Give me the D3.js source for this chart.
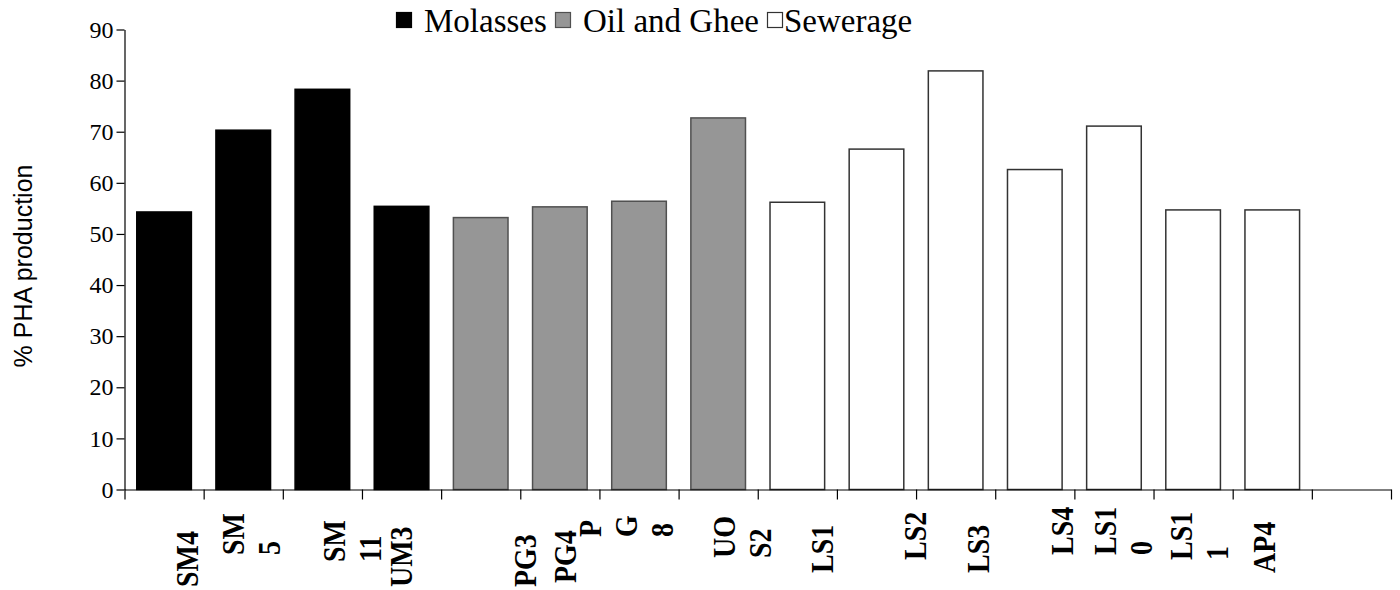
<!DOCTYPE html>
<html>
<head>
<meta charset="utf-8">
<script src="https://cdn.jsdelivr.net/npm/d3@7"></script>
<style>
    body { margin: 0; background: #fff; }
</style>
</head>
<body>
<div id="chart"></div>
<script>
// data
var categories = ["SM4", "SM\n5", "SM\n11", "UM3", "PG3", "PG4", "P\nG\n8", "UO\nS2",
    "LS1", "LS2", "LS3", "LS4", "LS1\n0", "LS1\n1", "AP4"];
var values = [54.3, 70.3, 78.3, 55.4, 53.2, 55.3, 56.4, 72.7,
    56.2, 66.6, 81.9, 62.6, 71.1, 54.7, 54.7];
var substrate = ["Molasses", "Molasses", "Molasses", "Molasses",
    "Oil and Ghee", "Oil and Ghee", "Oil and Ghee", "Oil and Ghee",
    "Sewerage", "Sewerage", "Sewerage", "Sewerage", "Sewerage", "Sewerage", "Sewerage"];
var substrates = ["Molasses", "Oil and Ghee", "Sewerage"];
var yTicks = [0, 10, 20, 30, 40, 50, 60, 70, 80, 90];

// label placement quirks of the original (px shift from band centre, bottom of text)
var labelDx = [24, -9, 13, 1, 46, 7, -48, 7, 26, 40, 24, 29, -7, -11, -7];
var labelBottom = [587, 555, 562, 587, 587, 583, 537, 558, 573, 560, 573, 555, 555, 560, 573];

function init() {
    var w = 1400, h = 590;
    var left = 124.5, right = 1391, top = 29.5, bottom = 489.5;
    var serif = "'Liberation Serif', 'Times New Roman', serif";

    var svg = d3.select("#chart")
        .append("svg")
        .attr("width", w)
        .attr("height", h);

    var fills = d3.scaleOrdinal().domain(substrates).range(["#000000", "#969696", "#ffffff"]);
    var strokes = d3.scaleOrdinal().domain(substrates).range(["#000000", "#505050", "#333333"]);

    // one empty slot after the last bar
    var xScale = d3.scaleBand()
        .domain(d3.range(categories.length + 1))
        .range([left, right])
        .paddingInner(0.31)
        .paddingOuter(0.155);

    var xEdges = d3.scaleLinear()
        .domain([0, categories.length + 1])
        .range([left, right]);

    var yScale = d3.scaleLinear()
        .domain([0, 90])
        .range([bottom, top]);

    // bars
    svg.append("g")
        .selectAll("rect")
        .data(values)
        .enter()
        .append("rect")
        .attr("x", (d, i) => xScale(i))
        .attr("y", d => yScale(d))
        .attr("width", xScale.bandwidth())
        .attr("height", d => yScale(0) - yScale(d))
        .attr("fill", (d, i) => fills(substrate[i]))
        .attr("stroke", (d, i) => strokes(substrate[i]))
        .attr("stroke-width", 1.5);

    // y axis
    var yAxis = d3.axisLeft(yScale)
        .tickValues(yTicks)
        .tickSize(8)
        .tickSizeOuter(0)
        .tickPadding(3);
    var gy = svg.append("g")
        .attr("transform", `translate(${left},0)`)
        .call(yAxis);
    gy.selectAll("text")
        .attr("font-family", serif)
        .attr("font-size", "24px")
        .attr("fill", "#000");
    gy.selectAll("line, path").attr("stroke", "#000").attr("stroke-width", 1.2);

    // x axis, ticks at band edges
    var xAxis = d3.axisBottom(xEdges)
        .tickValues(d3.range(categories.length + 2))
        .tickSize(10)
        .tickSizeOuter(0)
        .tickFormat("");
    var gx = svg.append("g")
        .attr("transform", `translate(0,${bottom})`)
        .call(xAxis);
    gx.selectAll("line, path").attr("stroke", "#000").attr("stroke-width", 1.2);

    // x labels, rotated and wrapped like the original (glyphs a little stretched)
    var thick = 1.15;
    var labels = svg.append("g")
        .selectAll("text")
        .data(categories)
        .enter()
        .append("text")
        .attr("transform", (d, i) => `translate(${xScale(i) + xScale.bandwidth() / 2 + labelDx[i]},${labelBottom[i]}) rotate(-90) scale(1,${thick})`)
        .attr("y", 9.5 / thick)
        .attr("font-family", serif)
        .attr("font-weight", "bold")
        .attr("font-size", "28px")
        .attr("fill", "#000");
    labels.selectAll("tspan")
        .data(d => d.split("\n"))
        .enter()
        .append("tspan")
        .attr("x", 0)
        .attr("dy", (d, i) => i === 0 ? 0 : 36 / thick)
        .text(d => d);

    // y axis title
    svg.append("text")
        .attr("transform", "translate(32,266) rotate(-90)")
        .attr("text-anchor", "middle")
        .attr("font-family", "'Liberation Sans', Arial, sans-serif")
        .attr("font-size", "25px")
        .attr("fill", "#000")
        .text("% PHA production");

    // legend
    var legendX = [396, 555, 767];
    var legend = svg.append("g")
        .selectAll("g")
        .data(substrates)
        .enter()
        .append("g")
        .attr("transform", (d, i) => `translate(${legendX[i]},0)`);
    legend.append("rect")
        .attr("x", 0.5)
        .attr("y", 12.5)
        .attr("width", 15)
        .attr("height", 15)
        .attr("fill", d => fills(d))
        .attr("stroke", d => strokes(d))
        .attr("stroke-width", 1.2);
    legend.append("text")
        .attr("x", (d, i) => i === 2 ? 17 : 28)
        .attr("y", 32)
        .attr("font-family", serif)
        .attr("font-size", "33px")
        .attr("fill", "#000")
        .text(d => d);
}

window.onload = init;
</script>
</body>
</html>
